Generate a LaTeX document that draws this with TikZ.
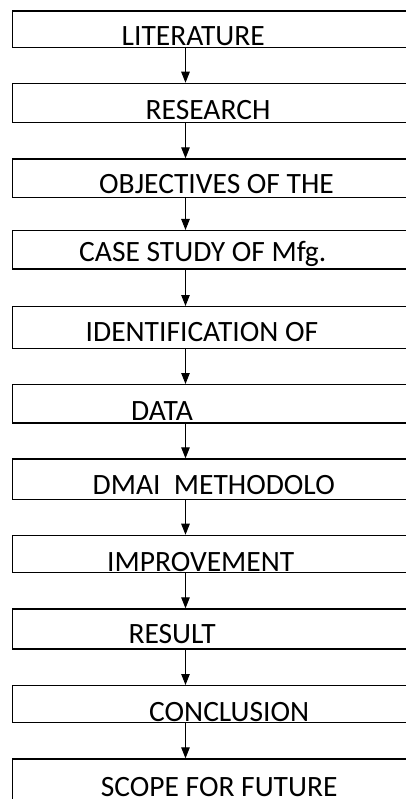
\documentclass[tikz,border=0pt]{standalone}
\usepackage{fontspec}
\setmainfont{Carlito}
\usetikzlibrary{arrows.meta}
\tikzset{
  boxst/.style={draw=black, line width=1.3pt, rectangle, inner sep=0pt, anchor=north west, minimum width=420pt},
  lbl/.style={anchor=base west, inner sep=0pt, font=\fontsize{29.5pt}{31pt}\selectfont},
  arr/.style={draw=black, line width=1pt, -{Triangle[length=11pt,width=8.5pt]}}
}
\begin{document}
\begin{tikzpicture}[x=1pt,y=-1pt]
\useasboundingbox (0,0) rectangle (405,799);
\fill[white] (0,0) rectangle (405,799);
% boxes: top, height
\node[boxst, minimum height=36.5pt] (b1) at (11.7,10.3) {};
\node[boxst, minimum height=39pt] (b2) at (11.7,82.7) {};
\node[boxst, minimum height=38.4pt] (b3) at (11.7,158.3) {};
\node[boxst, minimum height=38.3pt] (b4) at (11.7,230) {};
\node[boxst, minimum height=41.7pt] (b5) at (11.7,306) {};
\node[boxst, minimum height=38.3pt] (b6) at (11.7,384) {};
\node[boxst, minimum height=40.7pt] (b7) at (11.7,458.3) {};
\node[boxst, minimum height=37pt] (b8) at (11.7,534.7) {};
\node[boxst, minimum height=40pt] (b9) at (11.7,608.3) {};
\node[boxst, minimum height=36.7pt] (b10) at (11.7,685) {};
\node[boxst, minimum height=60pt] (b11) at (11.7,758.3) {};
% labels
\node[lbl] (t1) at (121.5,45.7) {LITERATURE};
\node[lbl] (t2) at (145.5,119.3) {RESEARCH};
\node[lbl] (t3) at (99,193.5) {OBJECTIVES OF THE};
\node[lbl] (t4) at (79,261.7) {CASE STUDY OF Mfg.};
\node[lbl] (t5) at (85.5,341.7) {IDENTIFICATION OF};
\node[lbl] (t6) at (131,420.7) {DATA};
\node[lbl] (t7) at (92.5,494) {DMAI\ \ METHODOLO};
\node[lbl] (t8) at (107,571.2) {IMPROVEMENT};
\node[lbl] (t9) at (128.3,643.3) {RESULT};
\node[lbl] (t10) at (149,721.5) {CONCLUSION};
\node[lbl] (t11) at (100.7,796.5) {SCOPE FOR FUTURE};
% arrows
\coordinate (ax) at (185.5,0);
\foreach \a/\b in {b1/b2,b2/b3,b3/b4,b4/b5,b5/b6,b6/b7,b7/b8,b8/b9,b9/b10,b10/b11}
  \draw[arr] (\a.south -| ax) -- (\b.north -| ax);
\end{tikzpicture}
\end{document}
